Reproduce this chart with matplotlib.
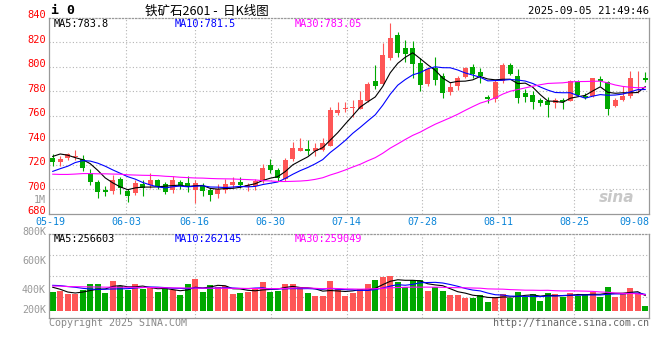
import numpy as np
import pandas as pd
import matplotlib
matplotlib.use('Agg')
import matplotlib.pyplot as plt
from matplotlib.transforms import ScaledTranslation

# figure size in pixels, used to place things like the sina page does
W, H = 660, 360

# trading days, 2025-06-02 was the dragon boat holiday
dates = pd.bdate_range('2025-05-19', '2025-09-08')
dates = dates[dates != pd.Timestamp('2025-06-02')]
day_labels = [d.strftime('%m-%d') for d in dates]
shown_labels = ['05-19', '06-03', '06-16', '06-30', '07-14', '07-28', '08-11', '08-25', '09-08']
price_levels = [680, 700, 720, 740, 760, 780, 800, 820, 840]

opens = [725.7, 722.2, 726.0, 726.8, 724.9, 713.7, 705.8, 699.6, 698.7, 708.3,
         698.7, 697.1, 704.7, 703.4, 707.5, 704.7, 699.3, 706.1, 705.3, 699.3,
         702.5, 699.5, 696.7, 699.2, 703.3, 706.3, 701.9, 702.7, 706.8, 720.0,
         715.6, 708.8, 724.7, 731.5, 732.9, 731.5, 732.3, 735.9, 762.5, 765.4,
         766.2, 765.8, 772.3, 788.5, 786.0, 807.0, 826.0, 815.3, 815.3, 803.3,
         786.0, 799.0, 792.7, 779.8, 784.5, 792.1, 800.0, 796.2, 775.6, 773.5,
         788.8, 801.4, 792.4, 778.8, 776.9, 772.8, 772.5, 770.3, 772.8, 771.9,
         788.3, 776.6, 776.0, 790.2, 787.5, 768.4, 772.8, 776.7, 789.0, 791.4]
highs = [729.3, 727.5, 730.0, 732.0, 727.9, 716.5, 708.0, 702.6, 712.1, 710.2,
         700.7, 707.5, 707.5, 713.7, 708.8, 706.1, 710.7, 707.5, 710.7, 708.0,
         705.0, 701.4, 704.1, 708.8, 710.4, 710.4, 704.9, 708.2, 720.5, 724.7,
         717.8, 726.0, 738.4, 742.0, 740.3, 737.8, 741.9, 767.1, 771.3, 771.2,
         773.2, 780.0, 788.0, 801.7, 819.8, 836.0, 828.6, 822.2, 821.5, 807.0,
         800.1, 808.2, 795.0, 787.5, 792.5, 800.3, 802.2, 798.9, 777.1, 789.0,
         803.2, 803.3, 798.6, 782.3, 780.4, 775.0, 775.5, 774.5, 774.7, 789.6,
         789.6, 778.7, 791.0, 792.9, 788.3, 774.7, 784.2, 797.0, 797.0, 795.7]
lows = [719.5, 719.0, 723.8, 723.8, 714.8, 703.9, 693.3, 695.0, 696.6, 696.6,
        689.8, 695.2, 694.7, 701.5, 700.6, 696.0, 697.1, 700.0, 697.9, 689.0,
        694.5, 690.4, 693.2, 697.3, 701.4, 701.4, 698.6, 699.5, 705.5, 713.7,
        706.8, 706.8, 723.3, 731.5, 728.0, 727.4, 731.5, 735.6, 761.2, 763.0,
        759.0, 765.4, 771.6, 781.8, 785.2, 806.0, 808.5, 804.0, 791.3, 780.1,
        784.8, 785.6, 774.3, 777.0, 781.2, 790.7, 790.7, 787.2, 770.3, 771.7,
        786.8, 793.2, 770.7, 771.5, 765.5, 767.9, 759.4, 766.5, 766.0, 771.9,
        776.0, 773.8, 775.8, 784.2, 760.8, 767.3, 771.9, 774.5, 779.0, 787.7]
closes = [722.5, 725.2, 728.7, 727.6, 717.8, 706.1, 697.9, 697.9, 707.5, 701.2,
          694.7, 705.3, 701.2, 707.5, 702.0, 697.9, 707.5, 702.8, 702.0, 705.3,
          699.0, 695.3, 700.0, 704.1, 706.3, 703.3, 703.3, 706.6, 717.3, 715.6,
          709.6, 724.1, 734.0, 734.0, 731.5, 733.7, 737.8, 764.6, 764.5, 766.8,
          767.6, 773.0, 786.0, 784.4, 809.6, 823.5, 811.5, 810.6, 802.8, 785.6,
          798.5, 789.0, 778.8, 783.8, 791.4, 799.3, 794.2, 792.7, 773.5, 788.0,
          801.4, 794.6, 774.7, 775.5, 771.5, 770.7, 769.0, 773.0, 771.4, 788.3,
          776.8, 774.7, 791.0, 788.3, 766.0, 772.8, 776.6, 791.0, 789.5, 789.7]

# volume, thousands of lots
volumes = [312, 328, 274, 274, 339, 438, 438, 290, 487, 405,
           339, 438, 351, 367, 306, 367, 339, 258, 438, 520,
           306, 421, 394, 405, 274, 290, 312, 351, 476, 312,
           328, 438, 438, 384, 290, 246, 246, 487, 351, 246,
           295, 351, 438, 504, 548, 570, 476, 394, 504, 504,
           328, 384, 328, 258, 258, 213, 213, 258, 148, 229,
           274, 213, 312, 229, 274, 164, 290, 274, 229, 295,
           241, 274, 306, 229, 384, 229, 285, 372, 285, 77]

# start of the average lines (older days not shown)
ma5_head = [727.0, 729.0, 728.0, 726.0]
ma10_head = [714.8, 717.0, 719.0, 722.0, 723.6, 723.2, 721.5, 719.0, 716.0]
ma30_head = [712.5, 712.3, 712.3, 712.6, 713.0, 713.0, 712.8, 712.8, 712.6, 712.5,
             712.0, 711.8, 711.6, 711.5, 711.3, 710.8, 710.5, 710.0, 709.7, 709.4,
             709.3, 709.0, 708.8, 708.7, 708.6, 708.3, 708.1, 707.8, 707.2]
vma5_head = [384, 351, 306, 290]
vma10_head = [416, 411, 396, 384, 367, 355, 350, 352, 356]
vma30_head = [405, 403, 396, 394, 392, 390, 388, 386, 385, 384,
              384, 383, 382, 380, 378, 376, 374, 373, 372, 371,
              370, 369, 368, 367, 367, 366, 365, 364, 363]

RED = '#fe5656'
GREEN = '#00a800'
GRID = '#b4b4b4'
EDGE = '#999999'
MONO = 'DejaVu Sans Mono'
CJK = ['Noto Sans CJK SC', 'DejaVu Sans']


def moving(values, n, head):
	out = pd.Series(values).rolling(n).mean().to_numpy()
	out[:len(head)] = head
	return out


def px(x, y):
	return x / W, 1 - y / H


def style_box(ax):
	for side in ['left', 'right', 'bottom', 'top']:
		ax.spines[side].set_color(EDGE)
		ax.spines[side].set_linewidth(0.9)
	ax.spines['top'].set_linestyle(':')


opens = np.array(opens)
closes = np.array(closes)
x = np.arange(len(closes))
colors = np.where(closes >= opens, RED, GREEN)

# the grid columns of the sina chart are spaced a bit wider than the candles
tick_idx = [day_labels.index(d) for d in shown_labels]
grid_x = [min(i * 80 / 79 - 0.327, 79.5) for i in tick_idx]

fig = plt.figure(figsize=(W / 100, H / 100), dpi=100)

# ---- price panel
ax = fig.add_axes([49 / W, 1 - 214 / H, 600 / W, 196 / H])
ax.set_xlim(-0.5, len(x) - 0.5)
ax.set_ylim(680, 840)
for y in price_levels[1:-1]:
	ax.axhline(y, color=GRID, lw=0.8, ls=(0, (1, 2)), zorder=0)
for gx in grid_x[1:-1]:
	ax.axvline(gx, color=GRID, lw=0.8, ls=(0, (1, 2)), zorder=0)

ax.vlines(x, lows, highs, colors=colors, lw=0.8, zorder=2)
body_low = np.minimum(opens, closes)
body_h = np.maximum(np.abs(closes - opens), 0.5)
ax.bar(x, body_h, bottom=body_low, width=0.7, color=colors, linewidth=0, zorder=3)

ax.plot(x, moving(closes, 5, ma5_head), color='black', lw=0.8, zorder=4)
ax.plot(x, moving(closes, 10, ma10_head), color='#0000ff', lw=0.8, zorder=4)
ax.plot(x, moving(closes, 30, ma30_head), color='#ff00ff', lw=0.8, zorder=4)

# price labels, drawn a touch above their lines like sina does
lift = ax.get_yaxis_transform() + ScaledTranslation(-3 / 100, 2.5 / 100, fig.dpi_scale_trans)
for v in price_levels:
	ax.text(0, v, str(v), transform=lift, ha='right', va='center',
	        color='#ff0000', family=MONO, fontsize=7.5, clip_on=False)
ax.set_yticks([])
ax.set_xticks(grid_x)
ax.set_xticklabels(shown_labels, color='#0a84d8', family=MONO, fontsize=7.2)
ax.get_xticklabels()[-1].set_ha('right')
ax.tick_params(axis='x', length=0, pad=2.5)
style_box(ax)

ax.text(0.975, 0.085, 'sina', transform=ax.transAxes, ha='right', va='center',
        fontsize=11, style='italic', weight='bold', color='#c8c8c8')

# ---- volume panel
axv = fig.add_axes([49 / W, 1 - 317.7 / H, 600 / W, 83.4 / H])
axv.set_xlim(-0.5, len(x) - 0.5)
axv.set_ylim(-115, 1253)
for f in [0.25, 0.5, 0.75]:
	axv.plot([0, 1], [f, f], transform=axv.transAxes, color=GRID, lw=0.8,
	         ls=(0, (1, 2)), zorder=0)
for gx in grid_x[1:-1]:
	axv.axvline(gx, color=GRID, lw=0.8, ls=(0, (1, 2)), zorder=0)
axv.bar(x, volumes, width=0.8, color=colors, linewidth=0, zorder=2)
axv.plot(x, moving(volumes, 5, vma5_head), color='black', lw=0.8, zorder=3)
axv.plot(x, moving(volumes, 10, vma10_head), color='#0000ff', lw=0.8, zorder=3)
axv.plot(x, moving(volumes, 30, vma30_head), color='#ff00ff', lw=0.8, zorder=3)
axv.set_xticks([])
axv.set_yticks([])
style_box(axv)

# ---- texts
fig.text(*px(51, 11), 'i 0', fontsize=9.5, weight='bold', va='center', family=MONO)
fig.text(*px(207, 11), '铁矿石2601 -  日K线图', fontsize=9, ha='center',
         va='center', family=CJK)
fig.text(*px(649, 11), '2025-09-05 21:49:46', fontsize=7.6, ha='right',
         va='center', family=MONO)

fig.text(*px(54, 24), 'MA5:783.8', fontsize=7.4, va='center', family=MONO)
fig.text(*px(175, 24), 'MA10:781.5', fontsize=7.4, va='center', family=MONO,
         color='#0000ff')
fig.text(*px(295, 24), 'MA30:783.05', fontsize=7.4, va='center', family=MONO,
         color='#ff00ff')

fig.text(*px(54, 238.5), 'MA5:256603', fontsize=7.4, va='center', family=MONO)
fig.text(*px(175, 238.5), 'MA10:262145', fontsize=7.4, va='center', family=MONO,
         color='#0000ff')
fig.text(*px(295, 238.5), 'MA30:259049', fontsize=7.4, va='center', family=MONO,
         color='#ff00ff')

vol_labels = ['1M', '800K', '600K', '400K', '200K']
vol_label_y = [200, 231.5, 261, 290, 310]
for lab, ly in zip(vol_labels, vol_label_y):
	fig.text(*px(46, ly), lab, fontsize=7.2, ha='right', va='center',
	         family=MONO, color='#999999')

fig.text(*px(49, 323.5), 'Copyright 2025 SINA.COM', fontsize=7.2, va='center',
         family=MONO, color='#888888')
fig.text(*px(649, 323.5), 'http://finance.sina.com.cn', fontsize=7.2,
         ha='right', va='center', family=MONO, color='#666666')

fig.savefig('out.png', dpi=100)
